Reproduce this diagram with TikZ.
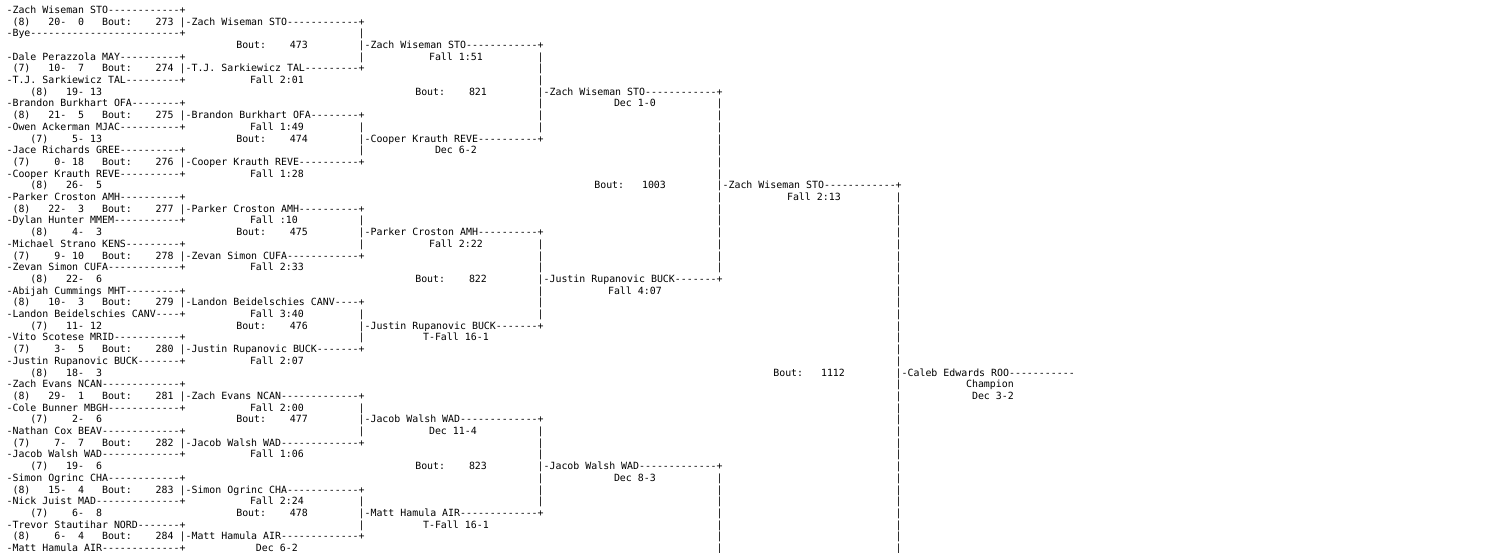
\documentclass[tikz,border=0pt]{standalone}
\usepackage{fontspec}
\setmonofont{DejaVu Sans Mono}
\newcounter{tn}
\def\cw{5.967}\def\lh{11.7}\def\xo{0.6}\def\yo{13.3}
\tikzset{txt/.style={inner sep=0pt,outer sep=0pt,text=black,font=\ttfamily\fontsize{9.916}{11.7}\selectfont}}
\newcommand\T[3]{\stepcounter{tn}\node[txt,anchor=base west] (t\arabic{tn}) at ({(\xo+\cw*(#1))*1pt},{-(\yo+\lh*(#2))*1pt}) {#3};}
\newcommand\TR[3]{\stepcounter{tn}\node[txt,anchor=base east] (t\arabic{tn}) at ({(\xo+\cw*((#1)+1))*1pt},{-(\yo+\lh*(#2))*1pt}) {#3};}
\newcommand\RS[3]{\T{(#1)+0.8}{#2}{#3}}
\newcommand\dsh[1]{\ifnum#1>0 -\expandafter\dsh\expandafter{\the\numexpr#1-1\relax}\fi}
\newcommand\NM[5]{\T{#1}{#2}{-#3\dsh{#4}#5}}
\newcommand\BT[3]{\T{#1}{#2}{Bout:}\TR{#1+11}{#2}{#3}}
\newcommand\BL[5]{\T{2}{#1}{(#2)}\TR{10}{#1}{#3-}\TR{13}{#1}{#4}\BT{17}{#1}{#5}\T{30}{#1}{|}}
\newcommand\RL[4]{\T{5}{#1}{(#2)}\TR{13}{#1}{#3-}\TR{16}{#1}{#4}}
\begin{document}
\begin{tikzpicture}
\fill[white] (0,0) rectangle (1492pt,-552pt);
\useasboundingbox (0,0) rectangle (1492pt,-552pt);
% round 1
\NM{1}{0}{Zach Wiseman STO}{12}{+}
\BL{1}{8}{20}{0}{273}
\NM{31}{1}{Zach Wiseman STO}{12}{+}
\NM{1}{2}{Bye}{25}{+}
\NM{1}{4}{Dale Perazzola MAY}{10}{+}
\BL{5}{7}{10}{7}{274}
\NM{31}{5}{T.J. Sarkiewicz TAL}{9}{+}
\NM{1}{6}{T.J. Sarkiewicz TAL}{9}{+}
\RL{7}{8}{19}{13}
\RS{41}{6}{Fall 2:01}
\NM{1}{8}{Brandon Burkhart OFA}{8}{+}
\BL{9}{8}{21}{5}{275}
\NM{31}{9}{Brandon Burkhart OFA}{8}{+}
\NM{1}{10}{Owen Ackerman MJAC}{10}{+}
\RL{11}{7}{5}{13}
\RS{41}{10}{Fall 1:49}
\NM{1}{12}{Jace Richards GREE}{10}{+}
\BL{13}{7}{0}{18}{276}
\NM{31}{13}{Cooper Krauth REVE}{10}{+}
\NM{1}{14}{Cooper Krauth REVE}{10}{+}
\RL{15}{8}{26}{5}
\RS{41}{14}{Fall 1:28}
\NM{1}{16}{Parker Croston AMH}{10}{+}
\BL{17}{8}{22}{3}{277}
\NM{31}{17}{Parker Croston AMH}{10}{+}
\NM{1}{18}{Dylan Hunter MMEM}{11}{+}
\RL{19}{8}{4}{3}
\RS{41}{18}{Fall :10}
\NM{1}{20}{Michael Strano KENS}{9}{+}
\BL{21}{7}{9}{10}{278}
\NM{31}{21}{Zevan Simon CUFA}{12}{+}
\NM{1}{22}{Zevan Simon CUFA}{12}{+}
\RL{23}{8}{22}{6}
\RS{41}{22}{Fall 2:33}
\NM{1}{24}{Abijah Cummings MHT}{9}{+}
\BL{25}{8}{10}{3}{279}
\NM{31}{25}{Landon Beidelschies CANV}{4}{+}
\NM{1}{26}{Landon Beidelschies CANV}{4}{+}
\RL{27}{7}{11}{12}
\RS{41}{26}{Fall 3:40}
\NM{1}{28}{Vito Scotese MRID}{11}{+}
\BL{29}{7}{3}{5}{280}
\NM{31}{29}{Justin Rupanovic BUCK}{7}{+}
\NM{1}{30}{Justin Rupanovic BUCK}{7}{+}
\RL{31}{8}{18}{3}
\RS{41}{30}{Fall 2:07}
\NM{1}{32}{Zach Evans NCAN}{13}{+}
\BL{33}{8}{29}{1}{281}
\NM{31}{33}{Zach Evans NCAN}{13}{+}
\NM{1}{34}{Cole Bunner MBGH}{12}{+}
\RL{35}{7}{2}{6}
\RS{41}{34}{Fall 2:00}
\NM{1}{36}{Nathan Cox BEAV}{13}{+}
\BL{37}{7}{7}{7}{282}
\NM{31}{37}{Jacob Walsh WAD}{13}{+}
\NM{1}{38}{Jacob Walsh WAD}{13}{+}
\RL{39}{7}{19}{6}
\RS{41}{38}{Fall 1:06}
\NM{1}{40}{Simon Ogrinc CHA}{12}{+}
\BL{41}{8}{15}{4}{283}
\NM{31}{41}{Simon Ogrinc CHA}{12}{+}
\NM{1}{42}{Nick Juist MAD}{14}{+}
\RL{43}{7}{6}{8}
\RS{41}{42}{Fall 2:24}
\NM{1}{44}{Trevor Stautihar NORD}{7}{+}
\BL{45}{8}{6}{4}{284}
\NM{31}{45}{Matt Hamula AIR}{13}{+}
\NM{1}{46}{Matt Hamula AIR}{13}{+}
\RS{42}{46}{Dec 6-2}
% round 2
\foreach \l in {2,3,4,10,11,12,18,19,20,26,27,28,34,35,36,42,43,44} {\T{60}{\l}{|}}
\NM{61}{3}{Zach Wiseman STO}{12}{+}
\BT{39.5}{3}{473}
\RS{71}{4}{Fall 1:51}
\NM{61}{11}{Cooper Krauth REVE}{10}{+}
\BT{39.5}{11}{474}
\RS{72}{12}{Dec 6-2}
\NM{61}{19}{Parker Croston AMH}{10}{+}
\BT{39.5}{19}{475}
\RS{71}{20}{Fall 2:22}
\NM{61}{27}{Justin Rupanovic BUCK}{7}{+}
\BT{39.5}{27}{476}
\RS{70}{28}{T-Fall 16-1}
\NM{61}{35}{Jacob Walsh WAD}{13}{+}
\BT{39.5}{35}{477}
\RS{71}{36}{Dec 11-4}
\NM{61}{43}{Matt Hamula AIR}{13}{+}
\BT{39.5}{43}{478}
\RS{70}{44}{T-Fall 16-1}
% round 3
\foreach \l in {4,...,10,20,21,...,26,36,37,...,42} {\T{90}{\l}{|}}
\NM{91}{7}{Zach Wiseman STO}{12}{+}
\BT{69.5}{7}{821}
\RS{102}{8}{Dec 1-0}
\NM{91}{23}{Justin Rupanovic BUCK}{7}{+}
\BT{69.5}{23}{822}
\RS{101}{24}{Fall 4:07}
\NM{91}{39}{Jacob Walsh WAD}{13}{+}
\BT{69.5}{39}{823}
\RS{102}{40}{Dec 8-3}
% round 4
\foreach \l in {8,...,22,40,41,...,46} {\T{120}{\l}{|}}
\NM{121}{15}{Zach Wiseman STO}{12}{+}
\BT{99.5}{15}{1003}
\RS{131}{16}{Fall 2:13}
% final
\foreach \l in {16,...,46} {\T{150}{\l}{|}}
\NM{151}{31}{Caleb Edwards ROO}{11}{}
\BT{129.5}{31}{1112}
\RS{161}{32}{Champion}
\RS{162}{33}{Dec 3-2}
\end{tikzpicture}
\end{document}
